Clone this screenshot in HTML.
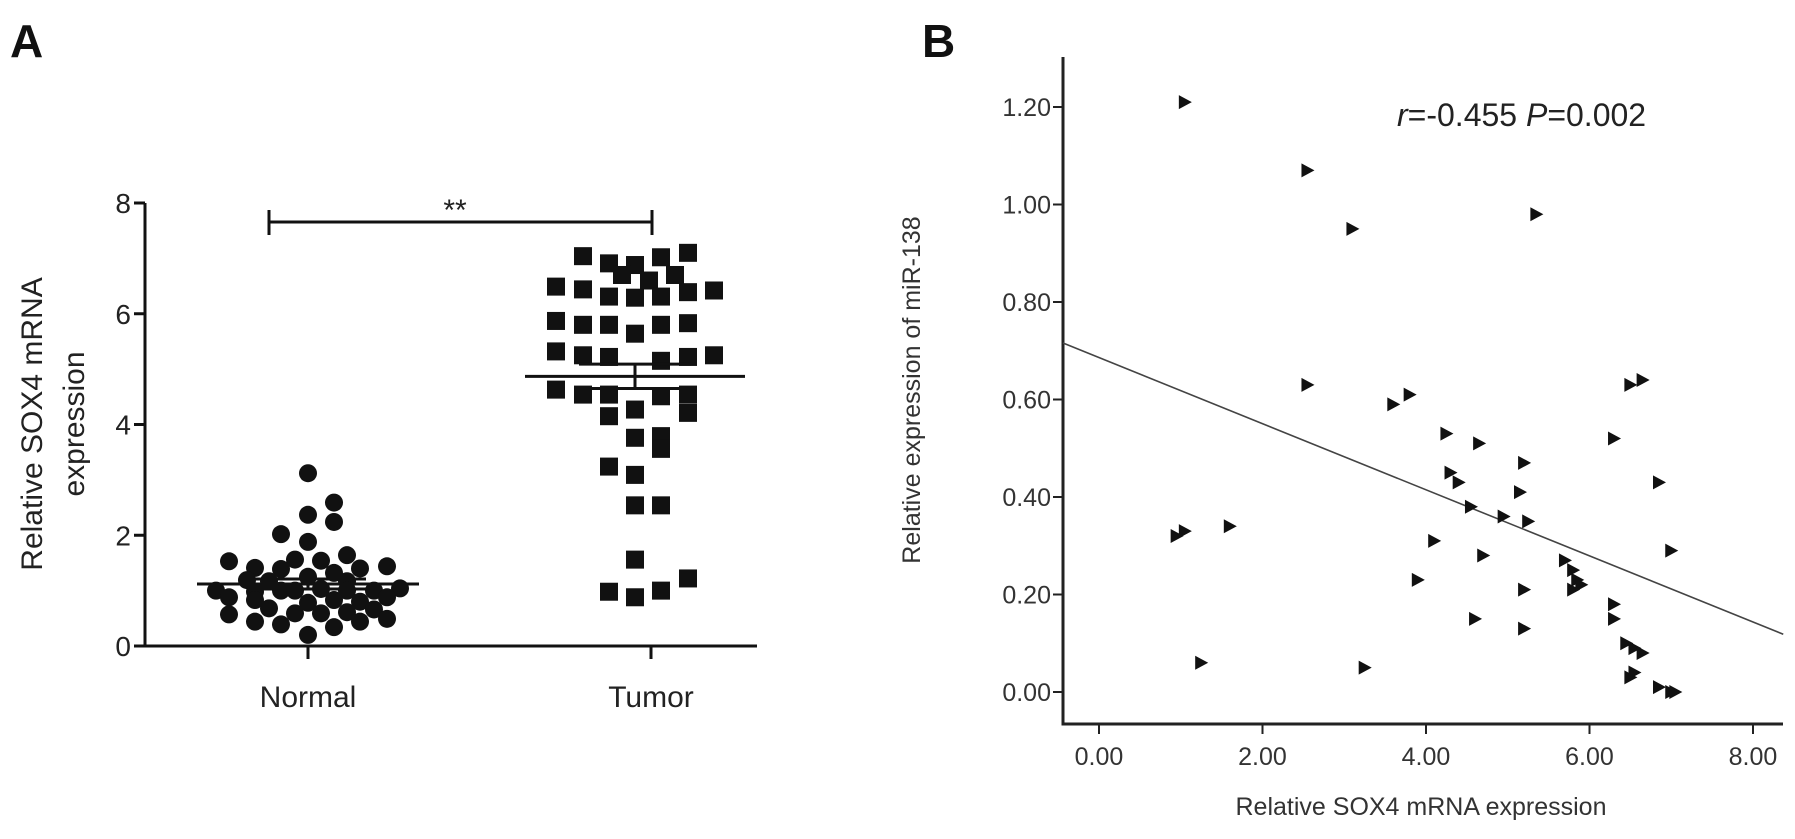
<!DOCTYPE html>
<html><head><meta charset="utf-8"><style>
html,body{margin:0;padding:0;background:#fff;}
svg{display:block;font-family:"Liberation Sans",Arial,sans-serif;}
</style></head><body>
<svg id="chart" width="1795" height="839" viewBox="0 0 1795 839" xmlns="http://www.w3.org/2000/svg">
<text x="10" y="57" font-size="46" font-weight="bold" fill="#111">A</text>
<text x="922" y="57" font-size="46" font-weight="bold" fill="#111">B</text>
<g id="pa"></g>
<g id="pb"></g>
</svg>
<script>
// ---- Panel A data ----
const aGroups = ["Normal", "Tumor"];
const aTicks = [0, 2, 4, 6, 8];
const normalVals = [3.12,2.37,2.59,2.24,2.02,1.88,1.53,1.41,1.39,1.56,1.54,1.64,1.40,1.44,1.19,1.17,1.25,1.32,1.17,1.00,0.88,0.98,1.00,1.00,1.03,1.00,1.00,1.04,0.83,0.68,0.78,0.83,0.80,0.88,0.57,0.59,0.59,0.61,0.66,0.49,0.44,0.39,0.34,0.44,0.20];
const normalOff = [0,0,26,26,-27,0,-79,-53,-27,-13,13,39,52,79,-61,-39,0,26,39,-92,-79,-53,-27,-13,13,39,66,92,-53,-39,0,26,52,79,-79,-13,13,39,66,79,-53,-27,26,52,0];
const tumorVals = [7.04,6.91,6.88,7.02,7.10,6.49,6.44,6.70,6.60,6.70,6.42,6.31,6.29,6.31,6.39,5.87,5.80,5.80,5.64,5.80,5.83,5.32,5.25,5.22,5.15,5.22,5.25,4.63,4.54,4.54,4.51,4.54,4.15,4.27,4.21,3.76,3.79,3.56,3.24,3.09,2.54,2.54,1.56,0.98,0.88,1.00,1.22];
const tumorOff = [-52,-26,0,26,53,-79,-52,-13,14,40,79,-26,0,26,53,-79,-52,-26,0,26,53,-79,-52,-26,26,53,79,-79,-52,-26,26,53,-26,0,53,0,26,26,-26,0,0,26,0,-26,0,26,53];
const aMeans = [1.12, 4.87];
const aSem = [0.09, 0.22];

// ---- Panel B data ----
const bX = [1.05,2.55,3.1,5.35,2.55,3.6,3.8,4.25,4.65,5.2,4.3,4.4,5.15,4.55,4.95,5.25,0.95,1.05,1.6,4.1,4.7,3.9,5.2,5.7,5.8,5.85,5.8,5.9,4.6,5.2,6.3,6.3,6.45,6.55,6.65,1.25,3.25,6.5,6.55,6.85,7.0,7.05,6.3,6.5,6.65,6.85,7.0];
const bY = [1.21,1.07,0.95,0.98,0.63,0.59,0.61,0.53,0.51,0.47,0.45,0.43,0.41,0.38,0.36,0.35,0.32,0.33,0.34,0.31,0.28,0.23,0.21,0.27,0.25,0.23,0.21,0.22,0.15,0.13,0.18,0.15,0.10,0.09,0.08,0.06,0.05,0.03,0.04,0.01,0.0,0.0,0.52,0.63,0.64,0.43,0.29];
const bXTicks = [0, 2, 4, 6, 8];
const bYTicks = [0, 0.2, 0.4, 0.6, 0.8, 1.0, 1.2];
const fitIntercept = [0.686];
const fitSlope = [-0.0678];

const NS = "http://www.w3.org/2000/svg";
function mk(tag, attrs, parent, txt){const e=document.createElementNS(NS,tag);for(const k in attrs)e.setAttribute(k,attrs[k]);if(txt!==undefined)e.textContent=txt;parent.appendChild(e);return e;}

// Panel A
const pa = document.getElementById('pa');
const aX0 = 145, aX1 = 757, aY0 = 646, aY8 = 203;
const ay = v => aY0 - v * (aY0 - aY8) / 8;
const aCx = [308, 635];
const aTickX = [308, 651];
let e;
e = mk('line',{x1:aX0,y1:aY8,x2:aX0,y2:aY0+1.5,stroke:'#111','stroke-width':3},pa);


e = mk('line',{x1:aX0,y1:aY0,x2:aX1,y2:aY0,stroke:'#111','stroke-width':3},pa);


aTicks.forEach(t=>{
  e = mk('line',{x1:aX0-11,y1:ay(t),x2:aX0,y2:ay(t),stroke:'#111','stroke-width':3},pa);
  
  
  e = mk('text',{x:aX0-14,y:ay(t)+10,'text-anchor':'end','font-size':28,fill:'#222'},pa,String(t));
  
  
});
aGroups.forEach((g,i)=>{
  e = mk('line',{x1:aTickX[i],y1:aY0,x2:aTickX[i],y2:aY0+13,stroke:'#111','stroke-width':3},pa);
  
  
  e = mk('text',{x:aTickX[i],y:aY0+61,'text-anchor':'middle','font-size':30,fill:'#222'},pa,g);
  
  
});
e = mk('text',{transform:'translate(42,424) rotate(-90)','text-anchor':'middle','font-size':30,fill:'#222'},pa,'Relative SOX4 mRNA');


e = mk('text',{transform:'translate(84,424) rotate(-90)','text-anchor':'middle','font-size':30,fill:'#222'},pa,'expression');


normalVals.forEach((v,i)=>{
  e = mk('circle',{cx:aCx[0]+normalOff[i],cy:ay(v),r:9,fill:'#111'},pa);
  
  
});
tumorVals.forEach((v,i)=>{
  e = mk('rect',{x:aCx[1]+tumorOff[i]-9,y:ay(v)-9,width:18,height:18,fill:'#111'},pa);
  
  
});
const meanHalf=[111,110], semHalf=[58,56];
aMeans.forEach((m,i)=>{
  e = mk('line',{x1:aCx[i]-meanHalf[i],y1:ay(m),x2:aCx[i]+meanHalf[i],y2:ay(m),stroke:'#111','stroke-width':3},pa);
  
  
  e = mk('path',{d:`M${aCx[i]-semHalf[i]},${ay(m+aSem[i])}H${aCx[i]+semHalf[i]}M${aCx[i]-semHalf[i]},${ay(m-aSem[i])}H${aCx[i]+semHalf[i]}M${aCx[i]},${ay(m+aSem[i])}V${ay(m-aSem[i])}`,stroke:'#111','stroke-width':3,fill:'none'},pa);
  
  
});
e = mk('path',{d:`M269,210V235M269,222H652M652,210V235`,stroke:'#111','stroke-width':3,fill:'none'},pa);


e = mk('text',{x:455,y:220,'text-anchor':'middle','font-size':30,fill:'#222'},pa,'**');



// Panel B
const pb = document.getElementById('pb');
const bAx = 1063, bAxR = 1783, bAy = 724, bTop = 57;
const bx = v => 1099 + v * 81.75;
const by = v => 692 - v * 487.5;
e = mk('line',{x1:bAx,y1:bTop,x2:bAx,y2:bAy+1.5,stroke:'#222','stroke-width':3},pb);


e = mk('line',{x1:bAx,y1:bAy,x2:bAxR,y2:bAy,stroke:'#222','stroke-width':3},pb);


bYTicks.forEach(t=>{
  e = mk('line',{x1:bAx-10,y1:by(t),x2:bAx,y2:by(t),stroke:'#222','stroke-width':2},pb);
  
  
  e = mk('text',{x:bAx-12,y:by(t)+9,'text-anchor':'end','font-size':25,fill:'#333'},pb,t.toFixed(2));
  
  
});
bXTicks.forEach(t=>{
  e = mk('line',{x1:bx(t),y1:bAy,x2:bx(t),y2:bAy+10,stroke:'#222','stroke-width':2},pb);
  
  
  e = mk('text',{x:bx(t),y:bAy+41,'text-anchor':'middle','font-size':25,fill:'#333'},pb,t.toFixed(2));
  
  
});
e = mk('text',{transform:'translate(920,390) rotate(-90)','text-anchor':'middle','font-size':25,fill:'#333'},pb,'Relative expression of miR-138');


e = mk('text',{x:1421,y:815,'text-anchor':'middle','font-size':25,fill:'#333'},pb,'Relative SOX4 mRNA expression');


const xs=-0.44, xe=8.37;
e = mk('line',{x1:bx(xs),y1:by(fitIntercept[0]+fitSlope[0]*xs),x2:bx(xe),y2:by(fitIntercept[0]+fitSlope[0]*xe),stroke:'#444','stroke-width':1.6},pb);


bX.forEach((v,i)=>{
  const cx=bx(v), cy=by(bY[i]);
  e = mk('path',{d:`M${cx-6},${cy-7}L${cx+7},${cy}L${cx-6},${cy+7}Z`,fill:'#111'},pb);
  
  
});
const st = mk('text',{x:1397,y:126,'font-size':32,fill:'#222'},pb);


mk('tspan',{'font-style':'italic'},st,'r');
mk('tspan',{},st,'=-0.455 ');
mk('tspan',{'font-style':'italic'},st,'P');
mk('tspan',{},st,'=0.002');
</script>
</body></html>
